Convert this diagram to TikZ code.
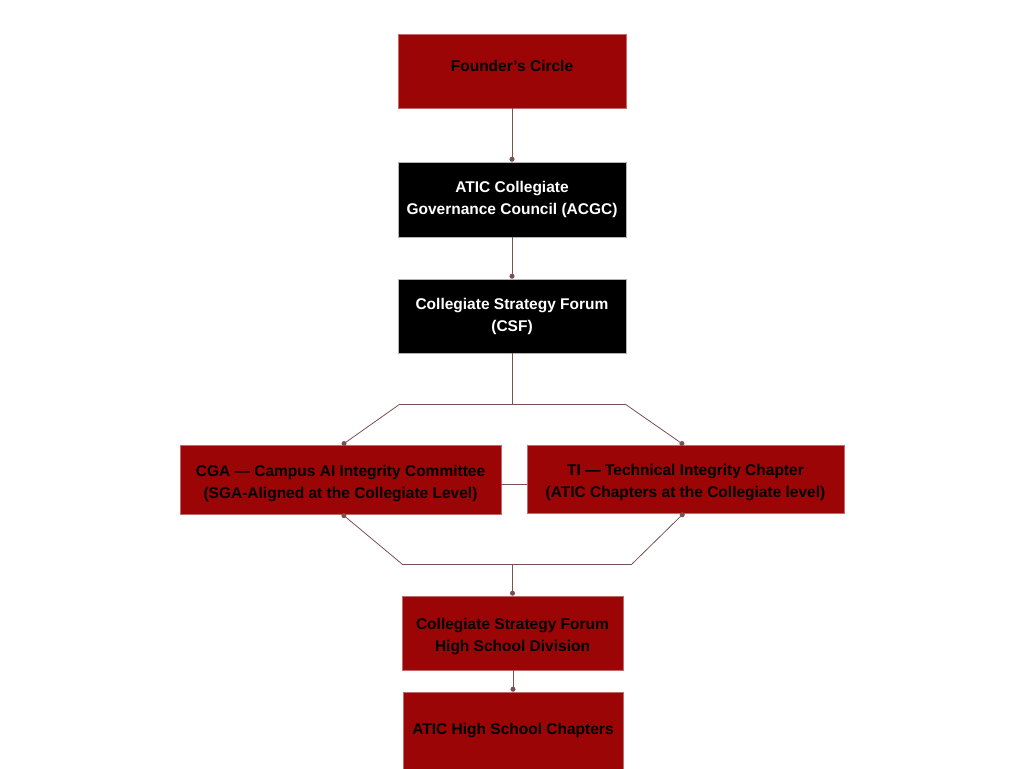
\documentclass[tikz,border=0pt]{standalone}
\usepackage{fontspec}
\setmainfont{Liberation Sans}
\usetikzlibrary{arrows.meta}
\definecolor{boxred}{HTML}{9B0505}
\definecolor{linec}{HTML}{7A5050}
\tikzset{
  redbox/.style={draw=boxred!60!white, line width=0.6pt, fill=boxred, text=black, font=\bfseries\fontsize{15.5}{22}\selectfont, align=center, inner sep=0pt},
  blackbox/.style={draw=black!30, line width=0.6pt, fill=black, text=white, font=\bfseries\fontsize{15.5}{22}\selectfont, align=center, inner sep=0pt},
  lower/.style={text height=41pt},
  conn/.style={draw=linec, line width=0.8pt, -{Circle[length=5pt]}},
  plain/.style={draw=linec, line width=0.8pt}
}
\begin{document}
\begin{tikzpicture}[x=1pt,y=-1pt]
\useasboundingbox (0,0) rectangle (1024,768);
\node[redbox, minimum width=228pt, minimum height=74pt, text depth=10pt] (fc) at (512,71) {Founder’s Circle};
\node[blackbox, minimum width=228pt, minimum height=75pt] (acgc) at (512,199.5) {ATIC Collegiate\\Governance Council (ACGC)};
\node[blackbox, minimum width=228pt, minimum height=74pt] (csf) at (512,316) {Collegiate Strategy Forum\\(CSF)};
\node[redbox, lower, minimum width=321pt, minimum height=69pt] (cga) at (340.5,479.5) {CGA — Campus AI Integrity Committee\\(SGA-Aligned at the Collegiate Level)};
\node[redbox, lower, minimum width=317pt, minimum height=68pt] (ti) at (685.5,479) {TI — Technical Integrity Chapter\\(ATIC Chapters at the Collegiate level)};
\node[redbox, lower, minimum width=221pt, minimum height=74pt] (hsd) at (512.5,633) {Collegiate Strategy Forum\\High School Division};
\node[redbox, minimum width=220pt, minimum height=78pt] (hs) at (513,731) {ATIC High School Chapters};

\coordinate (j1) at (512,404);
\coordinate (l1) at (400,404);
\coordinate (r1) at (625,404);
\coordinate (l2) at (402,564);
\coordinate (r2) at (632,564);
\coordinate (j2) at (512.5,564);

\draw[conn] (fc.south) -- (acgc.north);
\draw[conn] (acgc.south) -- (csf.north);
\draw[plain] (csf.south) -- (j1);
\draw[plain] (l1) -- (r1);
\draw[conn] (l1) -- (342,445);
\draw[conn] (r1) -- (684,445);
\draw[plain] (cga.east |- 0,484) -- (ti.west |- 0,484);
\draw[conn] (l2) -- (342,514);
\draw[conn] (r2) -- (684,513);
\draw[plain] (l2) -- (r2);
\draw[conn] (j2) -- (hsd.north);
\draw[conn] (hsd.south -| hs.north) -- (hs.north);
\end{tikzpicture}
\end{document}
